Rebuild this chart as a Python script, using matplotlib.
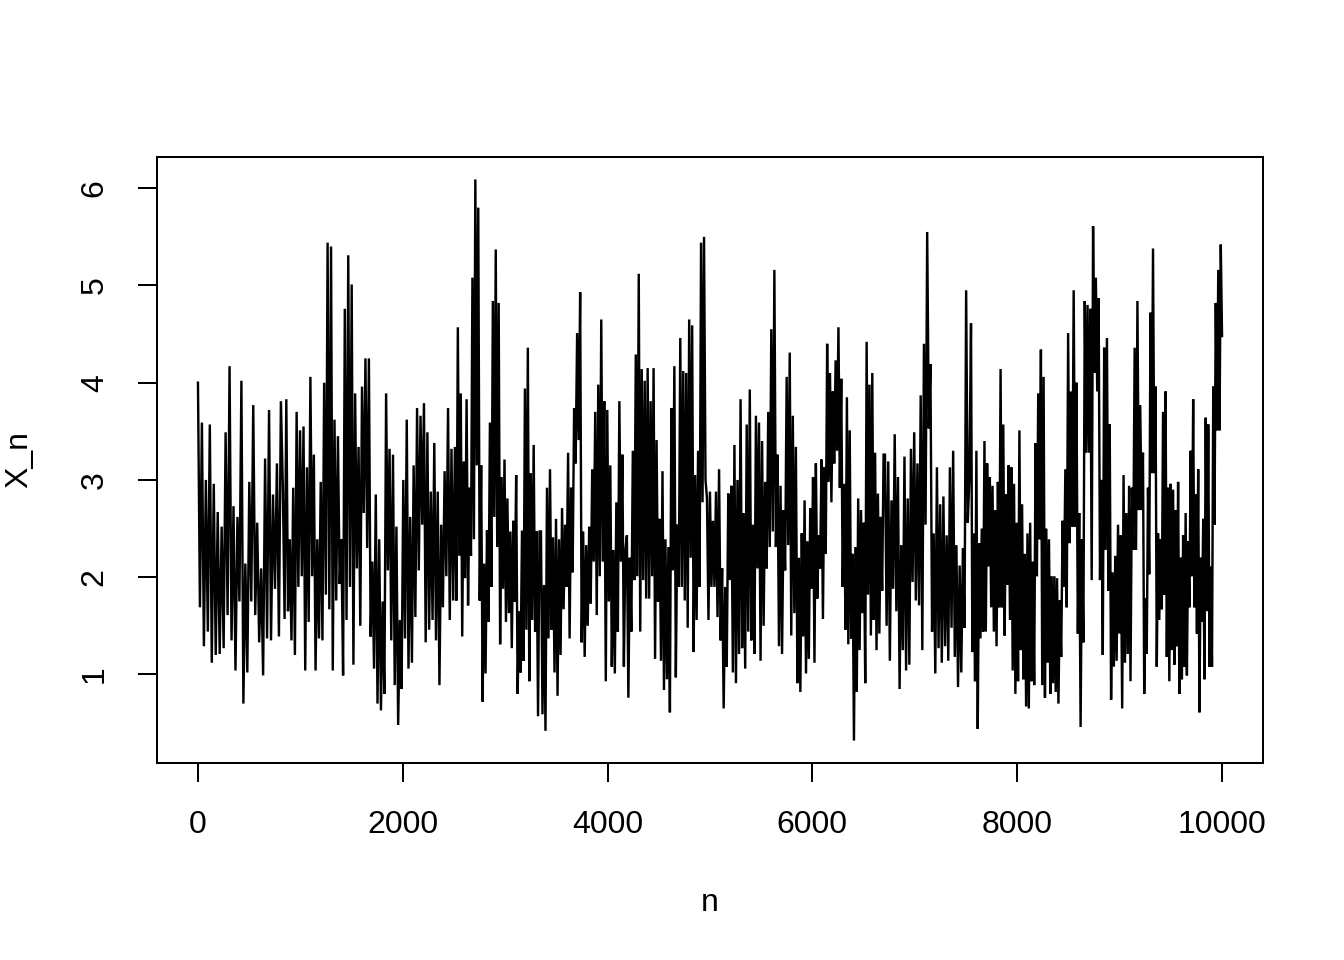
import numpy as np
import matplotlib
matplotlib.use("Agg")
import matplotlib.pyplot as plt

plt.rcParams['font.family'] = ['Liberation Sans', 'DejaVu Sans']

# segment boundaries along n
seg_bounds = [1, 830, 1670, 2510, 3350, 4189, 5029, 5869, 6709, 7549, 8389, 9228, 10000]

seg1 = [4.00, 1.69, 3.59, 1.29, 3.00, 1.44, 3.57, 1.12, 2.96, 1.20, 2.67, 1.21, 2.52, 1.27, 3.49, 1.61,
        4.17, 1.35, 2.73, 1.04, 2.62, 1.75, 4.02, 0.70, 2.14, 1.02, 2.98, 1.75, 3.77, 1.61, 2.56, 1.33,
        2.09, 0.99, 3.22, 1.37, 3.72, 1.35, 2.85, 1.88, 3.17, 1.39, 3.81]
seg2 = [2.92, 1.57, 3.83, 1.65, 2.39, 1.35, 2.92, 1.20, 3.70, 1.90, 3.51, 2.01, 3.55, 1.04, 3.13, 1.54,
        4.06, 2.01, 3.26, 1.04, 2.39, 1.37, 2.98, 1.35, 4.00, 1.82, 5.44, 1.67, 5.40, 1.04, 3.62, 1.76,
        3.45, 1.93, 2.39, 0.99, 4.76, 1.56, 5.31, 1.90, 5.01, 1.10, 3.89, 2.09, 3.34, 1.50, 3.96, 2.66,
        4.25, 2.30]
seg3 = [4.25, 1.39, 2.16, 1.06, 2.85, 0.70, 2.39, 0.63, 1.75, 0.80, 3.89, 2.07, 3.32, 1.35, 3.26, 0.89,
        2.52, 0.48, 1.56, 0.85, 3.00, 1.37, 3.62, 1.06, 2.62, 1.12, 3.15, 1.59, 3.74, 2.07, 3.66, 2.54,
        3.79, 1.33, 3.49, 1.46, 2.88, 1.56, 3.38, 1.35, 2.88, 0.89, 2.54, 1.69, 3.09, 2.01, 3.74, 1.56,
        3.32, 1.76]
seg4 = [3.34, 1.76, 4.57, 2.22, 3.89, 1.39, 3.19, 1.99, 3.83, 1.71, 2.92, 2.22, 5.08, 2.39, 6.09, 3.15,
        5.80, 1.76, 3.15, 0.72, 2.14, 1.01, 2.48, 1.54, 3.59, 1.90, 4.84, 2.62, 5.37, 2.31, 4.82, 1.31,
        3.03, 1.88, 3.21, 1.54, 2.81, 1.63, 2.47, 1.27, 2.58, 1.75, 3.05, 0.80, 1.65, 1.02, 2.48, 1.14,
        3.94, 1.46, 4.36, 0.93, 3.07, 1.56, 3.36, 1.44, 2.47, 0.57, 2.47]
seg5 = [2.47, 0.59, 1.92, 0.42, 2.92, 1.37, 3.11, 1.46, 2.41, 1.02, 2.60, 0.78, 2.39, 1.20, 2.71, 1.67,
        2.54, 1.90, 3.28, 1.37, 2.92, 2.05, 3.74, 3.17, 4.51, 3.41, 4.93, 1.33, 2.47, 1.18, 2.33, 1.50,
        2.52, 1.73, 3.11, 2.16, 3.70, 1.61, 3.98, 2.01, 4.65, 2.16, 3.81, 0.93, 3.72, 1.75, 3.15, 1.08,
        2.28, 1.01, 2.77, 1.44, 3.81, 2.16, 3.26, 1.08, 2.28]
seg6 = [2.43, 0.76, 2.20, 1.44, 3.30, 1.97, 4.29, 2.01, 5.12, 1.44, 4.14, 1.97, 4.02, 1.78, 4.15, 1.78,
        3.81, 2.01, 4.15, 1.16, 3.41, 1.75, 2.60, 1.14, 3.09, 0.84, 2.39, 0.95, 2.31, 0.61, 3.74, 2.07,
        4.17, 0.97, 2.54, 1.90, 4.46, 1.90, 4.12, 1.76, 4.10, 1.48, 4.65, 2.20, 4.59, 1.23, 3.05, 1.56,
        3.30, 1.90, 5.44, 2.77, 5.50, 3.00, 2.81, 1.56, 2.88, 1.90]
seg7 = [2.58, 1.90, 2.88, 1.59, 3.11, 1.35, 2.09, 0.65, 1.90, 1.08, 2.86, 1.97, 2.94, 1.02, 3.36, 0.91,
        3.00, 1.21, 3.83, 1.27, 2.66, 1.06, 3.57, 1.44, 3.93, 1.35, 2.54, 1.21, 3.66, 2.09, 3.59, 1.14,
        3.40, 1.50, 2.98, 2.09, 3.70, 2.31, 4.55, 2.47, 5.16, 2.31, 3.26, 1.29, 2.94, 1.21, 2.69, 2.07,
        4.06, 2.33, 4.31, 1.40, 3.66, 1.63, 3.34, 0.91]
seg8 = [2.20, 0.82, 2.45, 1.39, 2.79, 1.01, 2.37, 1.16, 2.71, 1.88, 3.03, 1.12, 3.17, 1.78, 2.43, 2.09,
        3.21, 1.57, 3.13, 2.24, 4.40, 2.98, 4.10, 2.77, 3.91, 3.17, 4.23, 3.30, 4.57, 2.92, 4.04, 1.90,
        2.96, 1.46, 3.85, 1.31, 3.51, 1.37, 2.24, 0.32, 2.31, 0.82, 2.81, 1.25, 2.69, 1.63, 2.56, 0.91,
        4.42, 1.82, 3.98, 1.40, 4.10, 1.56, 3.28, 1.25, 2.86, 1.42, 2.62, 1.86, 3.26]
seg9 = [3.26, 1.50, 3.19, 1.14, 2.79, 1.88, 3.47, 1.65, 3.03, 0.85, 2.33, 1.25, 3.24, 1.04, 2.81, 1.10,
        3.32, 1.95, 3.49, 1.76, 3.17, 1.71, 3.87, 1.25, 4.40, 2.54, 5.55, 3.53, 4.19, 1.44, 2.45, 1.01,
        3.13, 1.27, 2.75, 1.12, 2.83, 1.29, 2.43, 1.14, 3.13, 1.48, 3.30, 1.18, 2.33, 0.87, 2.12, 1.02,
        2.30, 1.48, 4.95, 2.56, 3.03]
seg10 = [4.61, 1.23, 2.45, 0.93, 3.30, 0.44, 2.35, 1.37, 2.50, 1.44, 3.40, 1.44, 3.17, 2.11, 3.03, 1.69,
         2.94, 1.44, 2.69, 1.29, 2.98, 1.69, 4.14, 1.69, 3.57, 1.40, 2.85, 1.92, 3.15, 1.56, 3.13, 1.04,
         2.96, 0.80, 2.56, 0.93, 3.51, 1.25, 2.75, 0.95, 2.24, 0.67, 2.45, 0.65, 2.56, 0.93, 2.16, 0.89,
         3.38, 2.01, 3.89, 2.39, 4.34, 0.89, 4.06, 0.76, 2.50, 1.12, 2.39, 0.80, 2.01, 0.91, 2.01, 0.82]
seg11 = [1.99, 0.70, 1.76, 1.18, 2.58, 1.90, 3.11, 1.69, 4.51, 2.35, 3.91, 2.52, 4.95, 2.52, 4.00, 1.42,
         2.66, 0.46, 2.39, 1.33, 4.84, 3.28, 4.80, 3.28, 4.76, 1.97, 5.61, 4.10, 5.08, 3.91, 4.87, 1.97,
         3.00, 1.20, 4.36, 2.28, 4.46, 1.86, 3.57, 0.74, 2.05, 1.08, 2.22, 1.14, 2.54, 1.42, 2.43, 0.65,
         3.05, 1.12, 2.66, 1.21, 2.94, 0.93, 2.92, 2.28, 4.36, 2.28, 4.84, 2.69, 3.77, 2.69]
seg12 = [3.28, 0.80, 1.78, 1.21, 2.92, 2.03, 4.72, 3.07, 5.38, 3.07, 3.96, 1.08, 2.45, 1.56, 2.39, 1.67,
         3.70, 1.82, 3.91, 1.18, 2.92, 0.93, 2.96, 1.25, 2.90, 1.10, 2.69, 1.29, 2.98, 0.80, 2.20, 0.95,
         2.43, 1.08, 2.66, 0.99, 2.37, 1.69, 3.30, 2.01, 3.83, 1.69, 2.85, 1.42, 3.11, 0.61, 2.20, 1.54,
         2.60, 0.95, 3.64, 1.65, 3.57, 1.08, 2.11, 1.08, 3.96, 2.54, 4.82, 3.51, 5.16, 3.51, 5.42, 4.48]

segments = [seg1, seg2, seg3, seg4, seg5, seg6, seg7, seg8, seg9, seg10, seg11, seg12]

x_ticks = [0, 2000, 4000, 6000, 8000, 10000]
y_ticks = [1, 2, 3, 4, 5, 6]

n_parts, x_parts = [], []
for i, vals in enumerate(segments):
    last = (i == len(segments) - 1)
    n_parts.append(np.linspace(seg_bounds[i], seg_bounds[i + 1], len(vals), endpoint=last))
    x_parts.append(np.asarray(vals, dtype=float))
n = np.concatenate(n_parts)
xn = np.concatenate(x_parts)

W, H, DPI = 1344, 960, 192
fig = plt.figure(figsize=(W / DPI, H / DPI), dpi=DPI)
ax = fig.add_axes([157 / W, 1 - 763 / H, (1263 - 157) / W, (763 - 157) / H])

ax.plot(n, xn, color='black', linewidth=0.9, solid_joinstyle='miter')
ax.margins(x=0.04, y=0.04)

ax.set_xticks(x_ticks)
ax.set_xticklabels([str(t) for t in x_ticks])
ax.set_yticks(y_ticks)
ax.set_yticklabels([str(t) for t in y_ticks], rotation=90, va='center')

ax.tick_params(direction='out', length=7.2, width=0.75, labelsize=12, pad=10.5, color='black')
for s in ax.spines.values():
    s.set_linewidth(0.75)
    s.set_color('black')

ax.set_xlabel('n', fontsize=12, labelpad=18)
ax.set_ylabel('X_n', fontsize=12, labelpad=17)

fig.savefig('out.png', dpi=DPI)
